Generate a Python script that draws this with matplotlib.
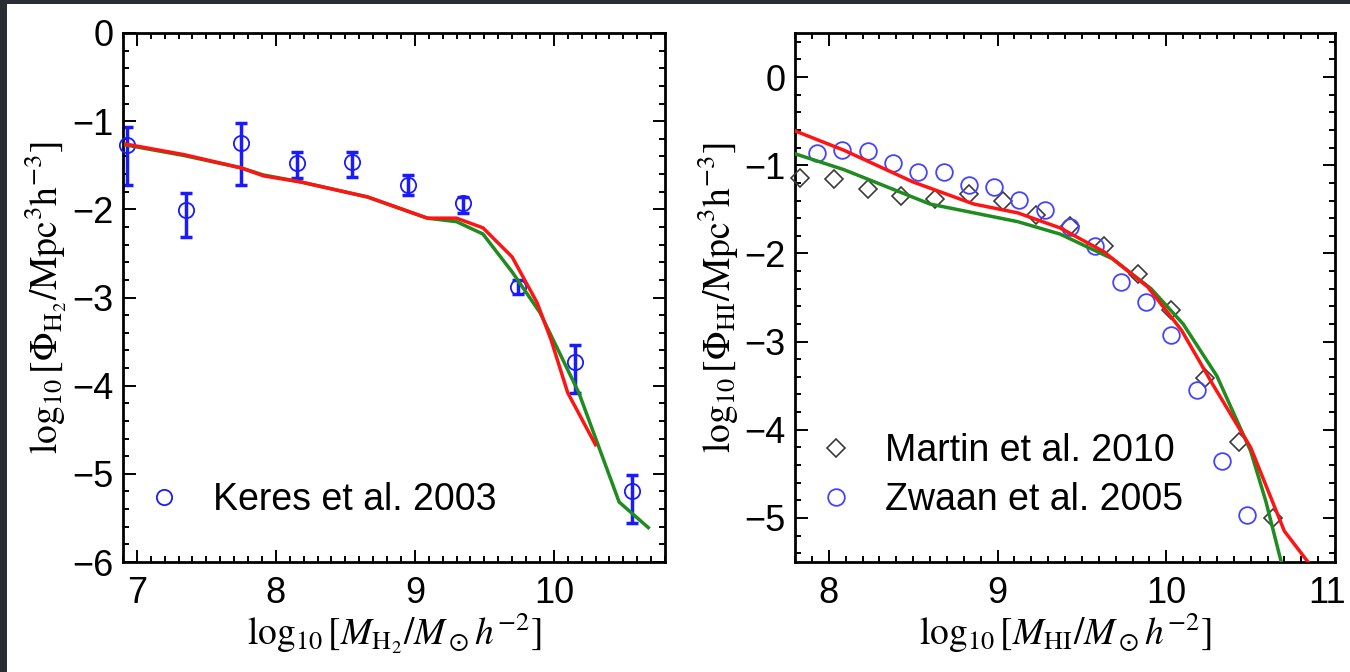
import numpy as np
import matplotlib
matplotlib.use("Agg")
import matplotlib.pyplot as plt
import matplotlib.transforms as mtransforms
from matplotlib.patches import Rectangle
from matplotlib.ticker import MultipleLocator

plt.rcParams['font.family'] = ['Liberation Sans', 'DejaVu Sans']
plt.rcParams['mathtext.fontset'] = 'stix'

# ===== DATA: H2 mass function (left) =====
keres_x = [6.93, 7.35, 7.75, 8.15, 8.55, 8.95, 9.35, 9.74, 10.15, 10.56]
keres_y = [-1.27, -2.01, -1.25, -1.47, -1.46, -1.72, -1.93, -2.88, -3.73, -5.20]
keres_err_lo = [0.45, 0.30, 0.47, 0.17, 0.17, 0.12, 0.11, 0.08, 0.35, 0.36]
keres_err_hi = [0.20, 0.20, 0.23, 0.12, 0.11, 0.11, 0.07, 0.08, 0.19, 0.19]

h2_red_x = [6.92, 7.34, 7.75, 7.91, 8.18, 8.66, 9.09, 9.30, 9.49, 9.70, 9.88, 9.98, 10.10, 10.30]
h2_red_y = [-1.26, -1.38, -1.53, -1.62, -1.69, -1.86, -2.10, -2.10, -2.21, -2.54, -3.06, -3.48, -4.08, -4.67]
h2_green_x = [6.92, 7.34, 7.75, 7.91, 8.18, 8.66, 9.09, 9.30, 9.49, 9.70, 9.90, 10.18, 10.47, 10.68]
h2_green_y = [-1.27, -1.39, -1.53, -1.61, -1.69, -1.86, -2.10, -2.14, -2.28, -2.71, -3.17, -4.08, -5.32, -5.61]

# ===== DATA: HI mass function (right) =====
martin_x = [7.83, 8.03, 8.23, 8.43, 8.63, 8.83, 9.03, 9.23, 9.43, 9.63, 9.83, 10.03, 10.23, 10.43, 10.63]
martin_y = [-1.14, -1.16, -1.27, -1.35, -1.38, -1.33, -1.40, -1.56, -1.69, -1.92, -2.23, -2.64, -3.41, -4.14, -5.00]

zwaan_x = [7.93, 8.08, 8.23, 8.38, 8.53, 8.68, 8.83, 8.98, 9.13, 9.28, 9.43, 9.58, 9.73, 9.88, 10.03, 10.18, 10.33, 10.48]
zwaan_y = [-0.86, -0.83, -0.84, -0.98, -1.08, -1.08, -1.22, -1.25, -1.39, -1.51, -1.70, -1.92, -2.32, -2.55, -2.93, -3.55, -4.35, -4.97]

hi_red_x = [7.80, 8.09, 8.50, 8.86, 9.12, 9.37, 9.63, 9.89, 10.09, 10.28, 10.50, 10.70, 10.84]
hi_red_y = [-0.61, -0.83, -1.19, -1.44, -1.54, -1.71, -1.98, -2.38, -2.87, -3.50, -4.20, -5.15, -5.50]
hi_green_x = [7.80, 8.09, 8.60, 9.12, 9.37, 9.68, 9.91, 10.10, 10.30, 10.50, 10.59, 10.68, 10.72]
hi_green_y = [-0.87, -1.05, -1.44, -1.64, -1.78, -2.06, -2.40, -2.80, -3.39, -4.24, -4.81, -5.49, -5.70]

RED = '#ff1414'
GREEN = '#1e8c1e'
BLUE = '#1a1aff'


def style_axes(ax, xmin, xmax, ymin, ymax):
    ax.set_xlim(xmin, xmax)
    ax.set_ylim(ymin, ymax)
    ax.xaxis.set_major_locator(MultipleLocator(1))
    ax.xaxis.set_minor_locator(MultipleLocator(0.1))
    ax.yaxis.set_major_locator(MultipleLocator(1))
    ax.yaxis.set_minor_locator(MultipleLocator(0.2))
    ax.tick_params(which='both', direction='in', top=True, right=True, width=1.4, color='black')
    ax.tick_params(which='major', length=9)
    ax.tick_params(which='minor', length=4.5)
    ax.tick_params(axis='x', which='major', labelsize=26, pad=10)
    ax.tick_params(axis='y', which='major', labelsize=26, pad=7)
    for s in ax.spines.values():
        s.set_linewidth(2)
    ax.set_facecolor('white')


fig = plt.figure(figsize=(13.5, 6.72), dpi=100, facecolor='#2c2d33')
fig.patches.append(Rectangle((7 / 1350, 0), 1, 1 - 4 / 672, transform=fig.transFigure,
                             facecolor='white', edgecolor='none', zorder=-10))

# ================= LEFT: H2 =================
ax1 = fig.add_axes([123 / 1350, 1 - 562 / 672, 542 / 1350, 529 / 672])
style_axes(ax1, 6.9, 10.8, -6, 0)
ax1.errorbar(keres_x, keres_y, yerr=[keres_err_lo, keres_err_hi], fmt='none',
             ecolor=BLUE, elinewidth=2.5, capsize=4, capthick=2.5, zorder=2)
ax1.plot(keres_x, keres_y, 'o', mfc='none', mec=BLUE, ms=11, mew=1.3,
         label='Keres et al. 2003', zorder=3, clip_on=False)
ax1.plot(h2_green_x, h2_green_y, color=GREEN, lw=2.5, zorder=4)
ax1.plot(h2_red_x, h2_red_y, color=RED, lw=2.5, zorder=5)
ax1.set_xlabel(r'$\log_{10}[M_{\rm H_2}/M_\odot h^{-2}]$', fontsize=27, labelpad=0)
ax1.set_ylabel(r'$\log_{10}[\Phi_{\rm H_2}/{\rm Mpc^3h^{-3}}]$', fontsize=27, labelpad=2)
ax1.legend(loc='lower left', bbox_to_anchor=(0.0, 0.04), frameon=False, fontsize=27,
           handlelength=1.0, handletextpad=0.8, borderaxespad=0.2)

# ================= RIGHT: HI =================
ax2 = fig.add_axes([795 / 1350, 1 - 562 / 672, 540 / 1350, 529 / 672])
style_axes(ax2, 7.8, 11.0, -5.5, 0.5)
ax2.plot(martin_x, martin_y, 'D', mfc='none', mec='#3a3a3a', ms=9, mew=1.2,
         label='Martin et al. 2010', zorder=3, clip_on=False)
ax2.plot(zwaan_x, zwaan_y, 'o', mfc='none', mec='#4444ff', ms=12, mew=1.3,
         label='Zwaan et al. 2005', zorder=3)
ax2.plot(hi_green_x, hi_green_y, color=GREEN, lw=2.5, zorder=4)
ax2.plot(hi_red_x, hi_red_y, color=RED, lw=2.5, zorder=5)
ax2.set_xlabel(r'$\log_{10}[M_{\rm HI}/M_\odot h^{-2}]$', fontsize=27, labelpad=0)
ax2.set_ylabel(r'$\log_{10}[\Phi_{\rm HI}/{\rm Mpc^3h^{-3}}]$', fontsize=27, labelpad=2)
ax2.legend(loc='lower left', bbox_to_anchor=(0.0, 0.04), frameon=False, fontsize=27,
           handlelength=1.0, handletextpad=0.8, borderaxespad=0.2, labelspacing=0.35)

# nudge the "11" label left so it stays inside the frame
fig.canvas.draw()
shift = mtransforms.ScaledTranslation(-8 / 100, 0, fig.dpi_scale_trans)
for lab in ax2.get_xticklabels():
    if lab.get_text() == '11':
        lab.set_transform(lab.get_transform() + shift)

plt.savefig('out.png', dpi=100, facecolor=fig.get_facecolor())
